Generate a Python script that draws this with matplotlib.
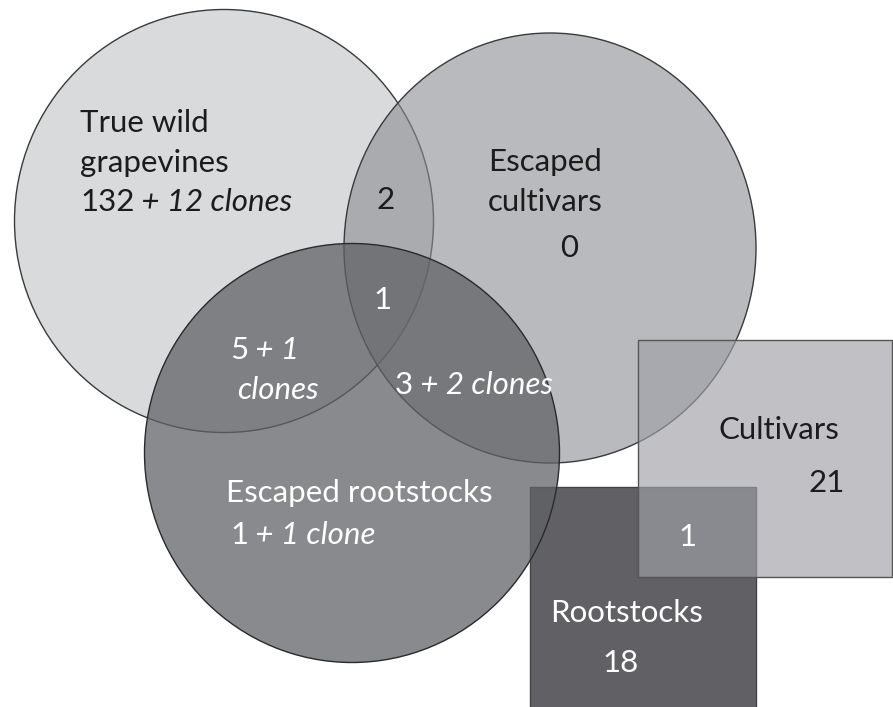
import matplotlib.pyplot as plt
from matplotlib.patches import Ellipse, Rectangle

plt.rcParams['font.family'] = ['Lato', 'DejaVu Sans']

# set names and counts
circle_names = ['True wild\ngrapevines', 'Escaped\ncultivars', 'Escaped rootstocks']
box_names = ['Cultivars', 'Rootstocks']
wild_only = ('132', ' + 12 clones')
cult_only = '0'
root_only = ('1', ' + 1 clone')
wild_cult = '2'
all_three = '1'
wild_root = ('5', ' + 1')
wild_root_2 = 'clones'
cult_root = ('3', ' + 2 clones')
cultivars_n = '21'
rootstocks_n = '18'
boxes_both = '1'

fig = plt.figure(figsize=(8.93, 7.07), dpi=100)
ax = fig.add_axes([0, 0, 1, 1])
ax.set_xlim(0, 893)
ax.set_ylim(707, 0)
ax.axis('off')

edge = '#3a3a3a'
# circles (center x, center y, width, height)
ax.add_patch(Ellipse((224, 221), 419, 423, fc='#d9dadc', ec=edge, lw=1, zorder=1))
ax.add_patch(Ellipse((550, 248), 412, 430, fc=(139/255, 140/255, 146/255), alpha=0.6,
                     ec='none', zorder=2))
ax.add_patch(Ellipse((550, 248), 412, 430, fc='none', ec=edge, lw=1, zorder=2))
ax.add_patch(Rectangle((530, 487), 226, 225, fc='#616165', ec='#444', lw=1, zorder=3))
ax.add_patch(Ellipse((352, 453), 415, 419, fc=(96/255, 97/255, 101/255), alpha=0.74,
                     ec='none', zorder=4))
ax.add_patch(Ellipse((352, 453), 415, 419, fc='none', ec='#2a2a2a', lw=1, zorder=4))
ax.add_patch(Rectangle((638, 340), 254, 237, fc=(160/255, 161/255, 166/255), alpha=0.65,
                       ec='none', zorder=5))
ax.add_patch(Rectangle((638, 340), 254, 237, fc='none', ec='#555', lw=1, zorder=5))

fs = 22.5
dark = '#1c1c1c'
white = 'white'


def label(x, y, s, color, ha='left'):
    return ax.text(x, y, s, fontsize=fs, color=color, ha=ha, va='center', zorder=10)


def mixed(x, y, parts, color):
    t = ax.text(x, y, parts[0], fontsize=fs, color=color, ha='left', va='center', zorder=10)
    ax.annotate(parts[1], xy=(1, 0), xycoords=t, fontsize=fs, color=color,
                style='italic', ha='left', va='bottom', zorder=10)


l1, l2 = circle_names[0].split('\n')
label(80, 123, l1, dark)
label(80, 163, l2, dark)
mixed(80, 202, wild_only, dark)
label(386, 200, wild_cult, dark, ha='center')

e1, e2 = circle_names[1].split('\n')
label(488, 162, e1, dark)
label(488, 202, e2, dark)
label(569, 248, cult_only, dark, ha='center')

label(383, 300, all_three, white, ha='center')
mixed(230, 350, wild_root, white)
ax.text(237, 390, wild_root_2, fontsize=fs, color=white, style='italic',
        va='center', zorder=10)
mixed(395, 385, cult_root, white)

label(226, 493, circle_names[2], white)
mixed(230, 535, root_only, white)

label(719, 430, box_names[0], dark)
label(808, 483, cultivars_n, dark)
label(688, 537, boxes_both, white, ha='center')
label(550, 613, box_names[1], white)
label(602, 663, rootstocks_n, white)

fig.savefig('out.png', dpi=100)
